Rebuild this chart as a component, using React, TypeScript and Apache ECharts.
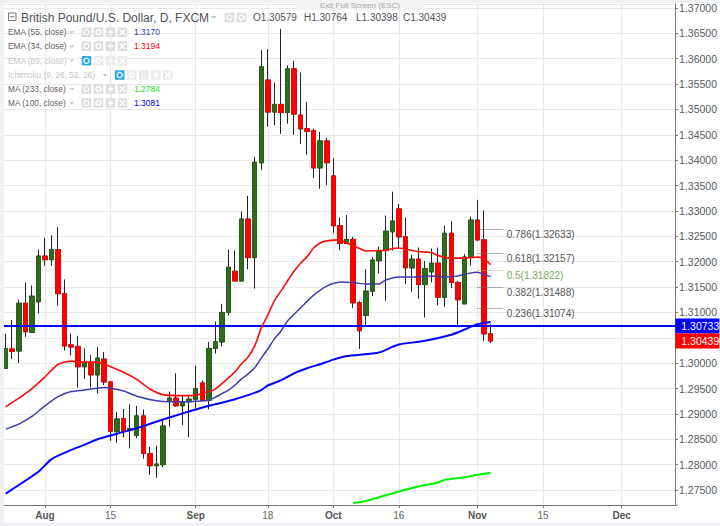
import React, { useEffect, useRef } from "react";
import * as echarts from "echarts";

const opens = [1.2990,1.3028,1.3024,1.3118,1.3061,1.3121,1.3211,1.3204,1.3224,1.3137,1.3036,1.3033,1.2993,1.3001,1.2977,1.3008,1.2963,1.2865,1.2891,1.2868,1.2858,1.2896,1.2822,1.2798,1.2800,1.2925,1.2931,1.2916,1.2924,1.2929,1.2961,1.2927,1.3029,1.3042,1.3100,1.3181,1.3162,1.3284,1.3208,1.3395,1.3558,1.3495,1.3510,1.3494,1.3580,1.3489,1.3462,1.3458,1.3385,1.3438,1.3369,1.3271,1.3236,1.3244,1.3119,1.3094,1.3142,1.3202,1.3222,1.3259,1.3304,1.3249,1.3188,1.3205,1.3155,1.3180,1.3197,1.3130,1.3256,1.3159,1.3117,1.3209,1.3282,1.3243,1.30579];
const closes = [1.3029,1.3023,1.3118,1.3062,1.3132,1.3211,1.3204,1.3224,1.3137,1.3034,1.3032,1.2993,1.3000,1.2977,1.3010,1.2963,1.2866,1.2890,1.2866,1.2871,1.2896,1.2822,1.2798,1.2801,1.2876,1.2931,1.2916,1.2923,1.2929,1.2950,1.2927,1.3029,1.3042,1.3100,1.3189,1.3162,1.3284,1.3208,1.3396,1.3584,1.3495,1.3510,1.3494,1.3580,1.3491,1.3462,1.3457,1.3385,1.3438,1.3395,1.3271,1.3236,1.3244,1.3119,1.3064,1.3142,1.3203,1.3222,1.3260,1.3280,1.3249,1.3188,1.3205,1.3155,1.3186,1.3197,1.3130,1.3256,1.3159,1.3125,1.3209,1.3282,1.3243,1.30579,1.30439];
const lows = [1.2989,1.3008,1.3000,1.3052,1.3060,1.3098,1.3192,1.3192,1.3113,1.3025,1.3015,1.2952,1.2969,1.2952,1.2940,1.2957,1.2847,1.2843,1.2854,1.2832,1.2852,1.2812,1.2780,1.2774,1.2795,1.2875,1.2914,1.2878,1.2854,1.2911,1.2927,1.2909,1.3019,1.3033,1.3094,1.3162,1.3162,1.3185,1.3147,1.3381,1.3466,1.3469,1.3452,1.3472,1.3450,1.3432,1.3411,1.3365,1.3344,1.3351,1.3257,1.3223,1.3236,1.3109,1.3028,1.3075,1.3132,1.3177,1.3123,1.3222,1.3226,1.3156,1.3141,1.3127,1.3090,1.3159,1.3114,1.3111,1.3148,1.3072,1.3117,1.3192,1.3241,1.3044,1.30398];
const highs = [1.3058,1.3085,1.3125,1.3159,1.3153,1.3224,1.3247,1.3252,1.3268,1.3165,1.3059,1.3054,1.3029,1.3016,1.3032,1.3022,1.2963,1.2904,1.2910,1.2919,1.2916,1.2909,1.2835,1.2837,1.2889,1.2944,1.2980,1.2937,1.2935,1.2995,1.2966,1.3042,1.3082,1.3117,1.3224,1.3222,1.3299,1.3330,1.3407,1.3617,1.3619,1.3553,1.3659,1.3587,1.3596,1.3573,1.3515,1.3462,1.3456,1.3444,1.3404,1.3287,1.3292,1.3249,1.3123,1.3185,1.3209,1.3230,1.3291,1.3338,1.3314,1.3287,1.3213,1.3228,1.3201,1.3226,1.3228,1.3271,1.3280,1.3162,1.3215,1.3289,1.3322,1.3301,1.30764];

const ema34Idx = [0,2,4,6,8,10,12,14,16,18,20,22,24,27,29,31,32,34,35,36,37,38,39,40,41,42,43,44,45,46,47,48,49,51,52,53,54,55,57,58,59,60,62,63,65,66,68,70,71,72,73,74];
const ema34Val = [1.2914,1.2931,1.2950,1.2973,1.2998,1.3004,1.3002,1.3002,1.2993,1.2982,1.2968,1.2949,1.2938,1.2936,1.2937,1.2944,1.2949,1.2971,1.2983,1.2999,1.3012,1.3034,1.3069,1.3095,1.3123,1.3142,1.3162,1.3181,1.3197,1.3210,1.3227,1.3237,1.3241,1.3243,1.3237,1.3232,1.3226,1.3221,1.3222,1.3222,1.3226,1.3227,1.3222,1.3220,1.3218,1.3212,1.3207,1.3207,1.3208,1.3209,1.3206,1.3194];

const ema55Idx = [0,2,4,6,8,10,12,15,18,20,23,25,27,29,31,32,33,34,35,36,37,38,39,40,41,42,43,45,47,49,51,53,55,57,58,60,62,65,67,69,71,72,73,74];
const ema55Val = [1.2870,1.2880,1.2895,1.2916,1.2934,1.2944,1.2947,1.2952,1.2945,1.2935,1.2926,1.2924,1.2924,1.2925,1.2927,1.2933,1.2940,1.2947,1.2957,1.2969,1.2979,1.2991,1.3010,1.3028,1.3048,1.3063,1.3083,1.3109,1.3134,1.3152,1.3160,1.3159,1.3156,1.3156,1.3164,1.3170,1.3170,1.3172,1.3170,1.3172,1.3178,1.3179,1.3175,1.3170];

const ma100Idx = [0,5,7,10,12,14,17,20,24,27,31,33,35,37,39,40,42,44,46,48,50,52,57,59,60,64,68,70,71,72,74];
const ma100Val = [1.2743,1.2786,1.2811,1.2829,1.2839,1.2850,1.2861,1.2872,1.2889,1.2901,1.2916,1.2922,1.2929,1.2937,1.2947,1.2956,1.2966,1.2980,1.2990,1.2998,1.3007,1.3014,1.3021,1.3032,1.3037,1.3044,1.3056,1.3066,1.3072,1.3077,1.3081];

const ma233Idx = [53,54,56,60,63,66,67,70,72,74];
const ma233Val = [1.2725,1.2726,1.2732,1.2747,1.2757,1.2765,1.2770,1.2775,1.2780,1.2784];

const slotCount = 103;
const tickIdx = [6,16,29,40,50,60,72,82,94];
const tickText = ["Aug","15","Sep","18","Oct","16","Nov","15","Dec"];
const monthTicks = ["Aug","Sep","Oct","Nov","Dec"];

const yMin = 1.27205;
const yMax = 1.37079;
const priceLevel = 1.30733;
const lastPrice = 1.30439;
const coveredTick = 1.305;

const fibText = ["0.786(1.32633)","0.618(1.32157)","0.5(1.31822)","0.382(1.31488)","0.236(1.31074)"];
const fibVal = [1.32633,1.32157,1.31822,1.31488,1.31074];
const fibFrom = 72;
const fibTo = 76;

const titleText = "British Pound/U.S. Dollar, D, FXCM";
const ohlcText = ["O1.30579","H1.30764","L1.30398","C1.30439"];
const studyNames = ["EMA (55, close)","EMA (34, close)","EMA (89, close)","Ichimoku (9, 26, 52, 26)","MA (233, close)","MA (100, close)"];
const studyValues = ["1.3170","1.3194","","","1.2784","1.3081"];
const studyColors = ["#3a3aa8","#ff0000","","","#22ee22","#0000ff"];

const FONT = "'Liberation Sans', Arial, sans-serif";
const UP = "#2f6b1e";
const DOWN = "#ff0000";
const GRID = "#e9e9e9";

function icon(kind: string, x: number, cy: number, active = false, faded = false): any {
  const w = 9.5, h = 9.5;
  const stroke = "#ffffff";
  const top = cy - h / 2;
  const kids: any[] = [
    { type: "rect", shape: { x, y: top, width: w, height: h }, style: { fill: active ? "#2fa9e0" : faded ? "#ebebeb" : "#dddddd" }, z: 101 },
  ];
  const mx = x + w / 2;
  if (kind === "eye") {
    kids.push({ type: "circle", shape: { cx: mx, cy, r: 2.6 }, style: { fill: "none", stroke, lineWidth: 1.2 }, z: 102 });
  } else if (kind === "gear") {
    kids.push({ type: "circle", shape: { cx: mx, cy, r: 2.4 }, style: { fill: "none", stroke, lineWidth: 1.6 }, z: 102 });
  } else if (kind === "plus") {
    kids.push({ type: "line", shape: { x1: mx - 3, y1: cy, x2: mx + 3, y2: cy }, style: { stroke, lineWidth: 1.4 }, z: 102 });
    kids.push({ type: "line", shape: { x1: mx, y1: cy - 3, x2: mx, y2: cy + 3 }, style: { stroke, lineWidth: 1.4 }, z: 102 });
  } else if (kind === "cross") {
    kids.push({ type: "line", shape: { x1: mx - 3, y1: cy - 3, x2: mx + 3, y2: cy + 3 }, style: { stroke, lineWidth: 1.4 }, z: 102 });
    kids.push({ type: "line", shape: { x1: mx - 3, y1: cy + 3, x2: mx + 3, y2: cy - 3 }, style: { stroke, lineWidth: 1.4 }, z: 102 });
  } else if (kind === "paren") {
    kids.push({ type: "text", style: { x: mx, y: cy, text: "()", fill: stroke, font: `8px ${FONT}`, align: "center", verticalAlign: "middle" }, z: 102 });
  }
  return { type: "group", children: kids };
}

function buildGraphics(): any[] {
  const els: any[] = [
    { type: "rect", shape: { x: 0, y: 0, width: 4, height: 526 }, style: { fill: "#eff1f5" }, z: 100 },
    { type: "rect", shape: { x: 0, y: 0, width: 720, height: 3 }, style: { fill: "#eff1f5" }, z: 100 },
    { type: "rect", shape: { x: 0, y: 523, width: 720, height: 3 }, style: { fill: "#eff1f5" }, z: 100 },
    { type: "rect", shape: { x: 296, y: 0, width: 128, height: 10 }, style: { fill: "#f3f3f3" }, z: 100 },
    { type: "text", style: { x: 360, y: 5, text: "Exit Full Screen (ESC)", fill: "#a8a8a8", font: `8px ${FONT}`, align: "center", verticalAlign: "middle" }, z: 101 },
    { type: "rect", shape: { x: 8.5, y: 13, width: 7.5, height: 7.5 }, style: { fill: "none", stroke: "#777", lineWidth: 1 }, z: 101 },
    { type: "line", shape: { x1: 10, y1: 16.8, x2: 14.5, y2: 16.8 }, style: { stroke: "#777", lineWidth: 1 }, z: 101 },
    { type: "text", style: { x: 21, y: 17.5, text: titleText, fill: "#4f5358", font: `12px ${FONT}`, align: "left", verticalAlign: "middle" }, z: 101 },
    { type: "polygon", shape: { points: [[211, 16], [217, 16], [214, 19]] }, style: { fill: "#c4c4c4" }, z: 101 },
    icon("eye", 224.7, 17.5),
    icon("gear", 236.7, 17.5),
  ];
  const ohlcX = [253, 304, 356, 403];
  ohlcText.forEach((t, i) => {
    els.push({ type: "text", style: { x: ohlcX[i], y: 17.5, text: t, fill: "#4f5358", font: `10px ${FONT}`, align: "left", verticalAlign: "middle" }, z: 101 });
  });
  const rowY = [32.3, 46.3, 60.7, 75, 89, 103];
  studyNames.forEach((name, r) => {
    const hidden = studyValues[r] === "";
    const isIchi = name.startsWith("Ichimoku");
    const cy = rowY[r];
    els.push({ type: "text", style: { x: 8, y: cy, text: name, fill: hidden ? "#c8c8c8" : "#6b6060", font: `8.3px ${FONT}`, align: "left", verticalAlign: "middle" }, z: 101 });
    const caretX = isIchi ? 105 : 71.7;
    els.push({ type: "polygon", shape: { points: [[caretX - 2.5, cy - 1], [caretX + 2.5, cy - 1], [caretX, cy + 1.5]] }, style: { fill: "#c8c8c8" }, z: 101 });
    if (isIchi) {
      ["eye", "gear", "paren", "plus", "cross"].forEach((k, j) => els.push(icon(k, 115 + j * 12, cy, j === 0, true)));
    } else {
      ["eye", "gear", "plus", "cross"].forEach((k, j) => els.push(icon(k, 81.7 + j * 12, cy, hidden && j === 0, hidden)));
    }
    if (!hidden) {
      els.push({ type: "text", style: { x: 134, y: cy, text: studyValues[r], fill: studyColors[r], font: `8.5px ${FONT}`, align: "left", verticalAlign: "middle" }, z: 101 });
    }
  });
  return els;
}

function lineSeries(idx: number[], val: number[], color: string, width: number, z: number) {
  return {
    type: "line",
    data: idx.map((x, i) => [x, val[i]]),
    smooth: 0.2,
    showSymbol: false,
    symbol: "none",
    silent: true,
    z,
    lineStyle: { color, width },
  };
}

export default function App() {
  const ref = useRef<HTMLDivElement>(null);
  useEffect(() => {
    document.body.style.margin = "0";
    document.body.style.background = "#ffffff";
    const chart = echarts.init(ref.current!, undefined, { renderer: "svg" });
    const slots = Array.from({ length: slotCount }, (_, i) => String(i));
    const isTick = (i: number) => tickIdx.includes(i);
    const wicks = opens.map((o, i) => [o, closes[i], lows[i], highs[i]]);
    const bodies = opens.map((o, i) => [o, closes[i], Math.min(o, closes[i]), Math.max(o, closes[i])]);
    const tag = (value: number, bg: string) => ({
      yAxis: value,
      label: {
        show: true,
        position: "end",
        distance: -2,
        formatter: value.toFixed(5),
        color: "#ffffff",
        backgroundColor: bg,
        fontFamily: FONT,
        fontSize: 10.5,
        width: 38,
        height: 15,
        lineHeight: 15,
        padding: [0, 0, 0, 6],
        align: "left",
        opacity: 1,
      },
    });
    const fibLines = fibVal.map((v, i) => {
      const mid = fibText[i].startsWith("0.5");
      return [
        {
          coord: [fibFrom, v],
          lineStyle: { type: "dotted", width: 1, color: mid ? "#8fc977" : "#666666" },
          label: {
            show: true,
            position: "end",
            distance: 3,
            offset: [0, 4.5],
            formatter: fibText[i],
            color: mid ? "#74ae55" : "#555555",
            fontFamily: FONT,
            fontSize: 10,
          },
        },
        { coord: [fibTo, v] },
      ];
    });
    chart.setOption({
      animation: false,
      backgroundColor: "#ffffff",
      textStyle: { fontFamily: FONT },
      grid: { left: 2.42, right: 41.9, top: 4, bottom: 21, containLabel: false },
      xAxis: {
        type: "category",
        data: slots,
        boundaryGap: true,
        axisLine: { show: true, lineStyle: { color: "#777777", width: 1 } },
        axisTick: { show: true, alignWithLabel: true, length: 3, interval: (i: number) => isTick(i), lineStyle: { color: "#777777" } },
        splitLine: { show: true, alignWithLabel: true, interval: (i: number) => isTick(i), lineStyle: { color: GRID, width: 1.2 } },
        axisLabel: {
          show: true,
          interval: (i: number) => isTick(i),
          margin: 5,
          fontSize: 10,
          fontFamily: FONT,
          color: "#666666",
          formatter: (_v: string, i: number) => {
            const t = tickText[tickIdx.indexOf(i)] ?? "";
            return monthTicks.includes(t) ? `{m|${t}}` : t;
          },
          rich: { m: { fontWeight: "bold", fontSize: 10, color: "#555555", fontFamily: FONT } },
        },
      },
      yAxis: {
        type: "value",
        position: "right",
        offset: -2.3,
        min: yMin,
        max: yMax,
        splitNumber: 20,
        scale: true,
        axisLine: { show: true, lineStyle: { color: "#777777", width: 1 } },
        axisTick: { show: true, length: 3, lineStyle: { color: "#777777" } },
        splitLine: { show: true, lineStyle: { color: GRID, width: 1.2 } },
        axisLabel: {
          show: true,
          margin: 4,
          fontSize: 10.5,
          fontFamily: FONT,
          color: "#555a60",
          showMinLabel: false,
          showMaxLabel: false,
          formatter: (v: number) => (Math.abs(v - coveredTick) < 1e-6 ? "" : v.toFixed(5)),
        },
      },
      series: [
        {
          type: "candlestick",
          data: wicks,
          barWidth: 5,
          z: 3,
          silent: true,
          itemStyle: { color: "#222222", color0: "#222222", borderColor: "#222222", borderColor0: "#222222", borderWidth: 1 },
          markLine: {
            silent: true,
            symbol: "none",
            precision: 5,
            animation: false,
            data: [
              { ...tag(priceLevel, "#0000ff"), lineStyle: { color: "#0000ff", width: 1.8, type: "solid" } },
              { ...tag(lastPrice, "#ff0000"), lineStyle: { color: "rgba(255,0,0,0)", width: 1, opacity: 1, type: "solid" } },
              ...fibLines,
            ],
          },
        },
        {
          type: "candlestick",
          data: bodies,
          barWidth: 5,
          z: 4,
          silent: true,
          itemStyle: { color: UP, color0: DOWN, borderColor: "#27601a", borderColor0: "#e00808", borderWidth: 1 },
        },
        lineSeries(ema55Idx, ema55Val, "#3d3dab", 1.5, 5),
        lineSeries(ema34Idx, ema34Val, "#ff0a0a", 1.6, 6),
        lineSeries(ma100Idx, ma100Val, "#0000ff", 2, 7),
        lineSeries(ma233Idx, ma233Val, "#00f000", 2, 7),
      ],
      graphic: { elements: buildGraphics() },
    });
    return () => chart.dispose();
  }, []);
  return <div ref={ref} style={{ width: 720, height: 526, position: "fixed", left: 0, top: 0 }} />;
}
